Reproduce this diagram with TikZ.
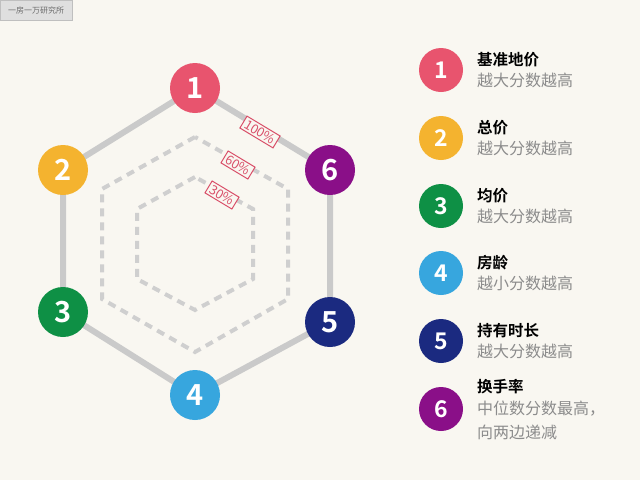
\documentclass[tikz,border=0pt]{standalone}
\usepackage{fontspec}
\setmainfont{Noto Sans CJK SC}
\newfontfamily\cjkb{Noto Sans CJK SC Bold}
\definecolor{bgc}{HTML}{F9F7F1}
\definecolor{cA}{HTML}{E8546E}
\definecolor{cB}{HTML}{F4B32F}
\definecolor{cC}{HTML}{0E9045}
\definecolor{cD}{HTML}{37A6DE}
\definecolor{cE}{HTML}{1B2A80}
\definecolor{cF}{HTML}{8A0F88}
\definecolor{hexgray}{HTML}{CACACA}
\definecolor{dashgray}{HTML}{CFCFCF}
\definecolor{pct}{HTML}{D9506A}
\definecolor{subgray}{HTML}{8C8C8C}
\tikzset{
  hexline/.style={draw=hexgray,line width=6pt},
  dashhex/.style={draw=dashgray,line width=4pt,dash pattern=on 8pt off 6pt},
  bigdot/.style={circle,fill=#1,minimum size=50pt,inner sep=0pt,text=white,font=\cjkb\fontsize{29}{29}\selectfont},
  smalldot/.style={circle,fill=#1,minimum size=44pt,inner sep=0pt,text=white,font=\cjkb\fontsize{23}{23}\selectfont},
  pctbox/.style={draw=pct,fill=bgc,text=pct,line width=1pt,rotate=-31,inner xsep=2.5pt,inner ysep=2pt,font=\fontsize{13}{13}\selectfont},
  ttl/.style={anchor=west,font=\cjkb\fontsize{15.5}{15.5}\selectfont,text=black,inner sep=0pt},
  sub/.style={anchor=west,font=\fontsize{16}{16}\selectfont,text=subgray,inner sep=0pt}
}
\begin{document}
\begin{tikzpicture}[x=1pt,y=1pt]
\fill[bgc] (0,0) rectangle (640,-480);
\useasboundingbox (0,0) rectangle (640,-480);
% header
\node[draw=gray!50,fill=gray!25,minimum width=72pt,minimum height=20pt,anchor=north west,inner sep=0pt,font=\fontsize{8}{8}\selectfont,text=gray!85!black] (hdr) at (0,0) {一房一万研究所};
% outer hexagon coordinates
\coordinate (p1) at (195,-88);
\coordinate (p2) at (63,-170);
\coordinate (p3) at (63,-312);
\coordinate (p4) at (195,-395);
\coordinate (p5) at (330,-322);
\coordinate (p6) at (330,-170);
\draw[hexline] (p1) -- (p2) -- (p3) -- (p4) -- (p5) -- (p6) -- cycle;
% dashed hexagons
\draw[dashhex] (195,-137) -- (102,-189) -- (102,-299) -- (195,-352) -- (288,-299) -- (288,-189) -- cycle;
\draw[dashhex] (195,-177) -- (137,-209) -- (137,-279) -- (195,-310) -- (253,-279) -- (253,-209) -- cycle;
% percentage labels
\node[pctbox] (l100) at (260,-132) {100\%};
\node[pctbox] (l60) at (238,-165) {60\%};
\node[pctbox] (l30) at (222,-195) {30\%};
% vertex circles
\node[bigdot=cA] (n1) at (p1) {1};
\node[bigdot=cB] (n2) at (p2) {2};
\node[bigdot=cC] (n3) at (p3) {3};
\node[bigdot=cD] (n4) at (p4) {4};
\node[bigdot=cE] (n5) at (p5) {5};
\node[bigdot=cF] (n6) at (p6) {6};
% legend
\node[smalldot=cA] (m1) at (441,-70) {1};
\node[ttl] (t1) at (477,-60) {基准地价};
\node[sub] (s1) at (477,-80) {越大分数越高};
\node[smalldot=cB] (m2) at (441,-138) {2};
\node[ttl] (t2) at (477,-128) {总价};
\node[sub] (s2) at (477,-148) {越大分数越高};
\node[smalldot=cC] (m3) at (441,-206) {3};
\node[ttl] (t3) at (477,-196) {均价};
\node[sub] (s3) at (477,-216) {越大分数越高};
\node[smalldot=cD] (m4) at (441,-273) {4};
\node[ttl] (t4) at (477,-263) {房龄};
\node[sub] (s4) at (477,-283) {越小分数越高};
\node[smalldot=cE] (m5) at (441,-341) {5};
\node[ttl] (t5) at (477,-331) {持有时长};
\node[sub] (s5) at (477,-351) {越大分数越高};
\node[smalldot=cF] (m6) at (441,-409) {6};
\node[ttl] (t6) at (477,-387) {换手率};
\node[sub] (s6) at (477,-409) {中位数分数最高，};
\node[sub] (s6b) at (477,-432) {向两边递减};
\end{tikzpicture}
\end{document}
